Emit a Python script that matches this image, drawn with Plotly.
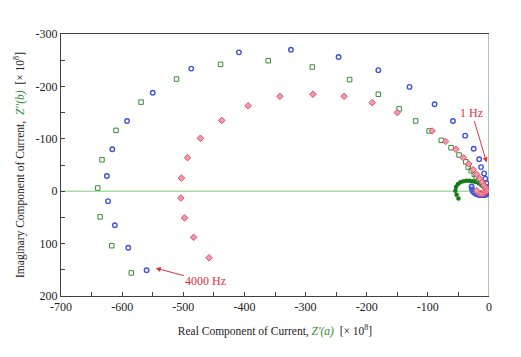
import plotly.graph_objects as go

# ---------------- data ----------------
blue_x = [-560, -590, -612, -623, -625, -616, -592, -550, -487, -409, -324, -246,
          -181, -130, -89, -59, -39, -25, -16, -13, -8, -6, -4, -2, -0.5,
          -1, -2, -3.5, -5.5, -8, -11, -14, -17.5, -21, -24, -26.5, -28, -28.5]
blue_y = [151, 108, 65, 19, -29, -80, -134, -188, -234, -265, -270, -256,
          -231, -199, -166, -134, -106, -81, -61, -46, -34, -24, -15, -8, -2,
          1, 3.5, 5.5, 7, 7.5, 7.5, 7.5, 7, 5.5, 3, 0, -4, -9]

red_x = [-458, -483, -498, -504, -503, -493, -472, -437, -394, -342, -288, -237,
         -191, -150, -93, -71, -54, -42, -33, -26, -20, -15, -11, -8, -5,
         -4, -6, -9, -12, -15, -18, -20]
red_y = [127, 88, 51, 13, -25, -64, -101, -135, -163, -181, -185, -181,
         -169, -150, -115, -95, -80, -64, -52, -41, -32, -24, -17, -11, -6,
         -1, 2, 4, 5, 4, 2, -1]

green_x = [-585, -617, -636, -640, -633, -610, -569, -511, -439, -361, -289, -228,
           -181, -147, -120, -98, -78, -62, -49, -38, -34, -29, -24, -21, -17, -12, -8, -5]
green_y = [156, 104, 49, -6, -60, -116, -170, -214, -242, -249, -237, -213,
           -185, -157, -134, -115, -97, -83, -69, -56, -46, -39, -32, -27, -21, -15, -10, -6]

dot_x = [-50, -53, -55, -54, -51, -47, -42, -37, -32, -27, -22, -17, -12.5, -8, -4.5]
dot_y = [14, 7, -1, -8, -13.5, -17, -19, -20, -20, -19, -17.5, -15, -11.5, -7.5, -3]

x_tick_vals = [-700, -600, -500, -400, -300, -200, -100, 0]
x_tick_text = ["-700", "-600", "-500", "-400", "-300", "-200", "-100", "0"]
x_minor_vals = [-650, -550, -450, -350, -250, -150, -50]
y_tick_vals = [-300, -200, -100, 0, 100, 200]
y_tick_text = ["-300", "-200", "-100", "0", "100", "200"]
y_minor_vals = [-250, -150, -50, 50, 150]

label_1hz = "1 Hz"
label_4000hz = "4000 Hz"

# ---------------- figure ----------------
SERIF = "Liberation Serif"
fig = go.Figure()

fig.add_trace(go.Scatter(x=dot_x, y=dot_y, mode="markers",
                         marker=dict(symbol="circle", size=4.5, color="#157a15"),
                         showlegend=False))
fig.add_trace(go.Scatter(x=green_x, y=green_y, mode="markers",
                         marker=dict(symbol="square-open", size=4.5, color="#3a8a3a",
                                     line=dict(width=1)),
                         showlegend=False))
fig.add_trace(go.Scatter(x=blue_x, y=blue_y, mode="markers",
                         marker=dict(symbol="circle-open", size=4.5, color="#3f52d8",
                                     line=dict(width=1.4)),
                         showlegend=False))
fig.add_trace(go.Scatter(x=red_x, y=red_y, mode="markers",
                         marker=dict(symbol="diamond", size=5, color="#f29aaa",
                                     line=dict(width=1, color="#e0506a")),
                         showlegend=False))

# zero line and right (x=0) line
fig.add_shape(type="line", xref="x", yref="y", x0=-700, x1=0, y0=0, y1=0,
              line=dict(color="#7ccf7c", width=1), layer="below")
fig.add_shape(type="line", xref="x", yref="y", x0=0, x1=0, y0=200, y1=-300,
              line=dict(color="#4f9a4f", width=1), layer="below")

fig.add_annotation(x=-4, y=-55, ax=-28, ay=-150, axref="x", ayref="y",
                   xref="x", yref="y", text=label_1hz, showarrow=True,
                   arrowhead=2, arrowsize=1, arrowwidth=1, arrowcolor="#e03040",
                   font=dict(family=SERIF, size=12, color="#e03040"))
fig.add_annotation(x=-545, y=147, ax=-463, ay=172, axref="x", ayref="y",
                   xref="x", yref="y", text=label_4000hz, showarrow=True,
                   arrowhead=2, arrowsize=1, arrowwidth=1, arrowcolor="#e03040",
                   font=dict(family=SERIF, size=12, color="#e03040"))

axis_font = dict(family=SERIF, size=12, color="#222222")
fig.update_xaxes(range=[-700, 0], tickmode="array", tickvals=x_tick_vals, ticktext=x_tick_text,
                 ticks="inside", ticklen=4, tickcolor="#404040", showgrid=False, zeroline=False,
                 minor=dict(tickmode="array", tickvals=x_minor_vals, ticks="inside", ticklen=4,
                            tickcolor="#404040", showgrid=False),
                 showline=True, linecolor="#404040", linewidth=1, mirror=True,
                 tickfont=axis_font,
                 title=dict(text="Real Component of Current, <span style='color:#2e8b2e'><i>Z'(a)</i></span>  [× 10<sup>8</sup>]",
                            font=dict(family=SERIF, size=11.5, color="#222222"), standoff=13))
fig.update_yaxes(range=[200, -300], tickmode="array", tickvals=y_tick_vals, ticktext=y_tick_text,
                 ticks="inside", ticklen=4, tickcolor="#404040", showgrid=False, zeroline=False,
                 minor=dict(tickmode="array", tickvals=y_minor_vals, ticks="inside", ticklen=4,
                            tickcolor="#404040", showgrid=False),
                 showline=True, linecolor="#404040", linewidth=1, mirror=False,
                 tickfont=axis_font,
                 title=dict(text="Imaginary Component of Current,  <span style='color:#2e8b2e'><i>Z''(b)</i></span>  [× 10<sup>8</sup>]",
                            font=dict(family=SERIF, size=11.5, color="#222222"), standoff=8))

fig.update_layout(width=513, height=349, margin=dict(l=50, r=32, t=26, b=61),
                  plot_bgcolor="white", paper_bgcolor="white")

fig.write_html("out.html")
